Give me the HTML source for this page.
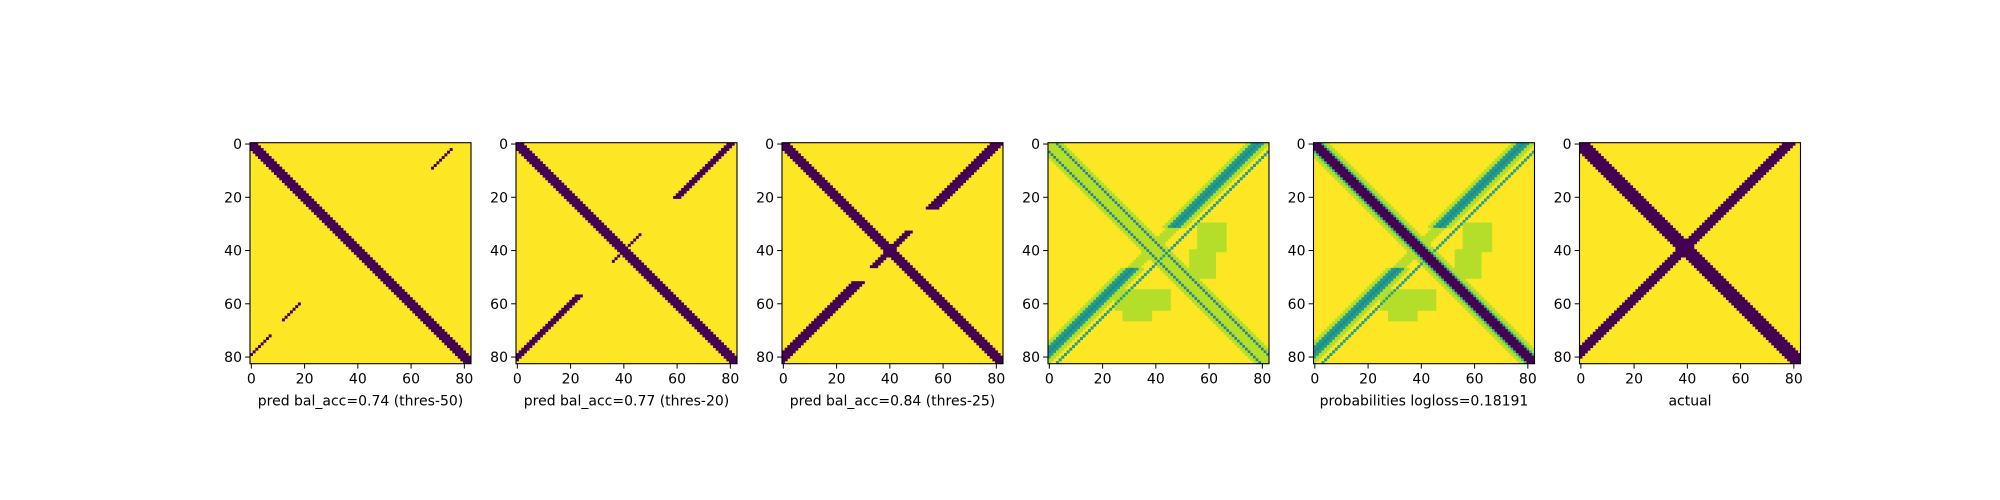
<!DOCTYPE html>
<html><head><meta charset="utf-8">
<style>
html,body{margin:0;padding:0;background:#fff;}
svg{display:block;}
text{font-family:"DejaVu Sans","Liberation Sans",sans-serif;font-size:14px;fill:#000;}
</style></head>
<body>
<svg id="fig" width="2000" height="500" viewBox="0 0 2000 500" xmlns="http://www.w3.org/2000/svg"></svg>
<script>
// ---- data ----
const xlabels = ["pred bal_acc=0.74 (thres-50)","pred bal_acc=0.77 (thres-20)","pred bal_acc=0.84 (thres-25)","","probabilities logloss=0.18191","actual"];
const ticks = [0,20,40,60,80];
const tickLabels = ["0","20","40","60","80"];
const N = 83;
// main-diagonal half widths for binary panels
const mainHalf = [2,2,2,null,null,3];
// anti-diagonal segments: [rowStart,rowEnd,rowPlusCol,halfWidth]
const antiSegs1 = [[2,9,77,0.6],[60,66,78,0.6],[72,80,79,0.8]];
const antiSegs2 = [[0,20,80,1],[34,44,80,0.6],[57,82,80,1]];
const antiSegs3 = [[0,24,80,2],[33,46,80,1.2],[52,82,80,2]];
const antiSegs6 = [[0,82,78,2]];
const antiSegs = [antiSegs1,antiSegs2,antiSegs3,null,null,antiSegs6];
// probability panels: blobs [r0,r1,c0,c1,value]
const blobs = [[30,40,56,66,0.92],[40,50,53,62,0.92],[55,62,25,45,0.92],[60,66,28,38,0.92]];
// ---- geometry ----
const lefts = [250,516,782,1048,1313.5,1579.5];
const top0 = 142.7, W = 221, cs = W/N;
const viridis = ["#440154","#482878","#3e4989","#31688e","#26828e","#1f9e89","#35b779","#6ece58","#b5de2b","#fde725"];
function vcol(v){v=Math.max(0,Math.min(1,v));return viridis[Math.round(v*9)];}
function value(p,r,c){
  if(p!==3 && p!==4){
    if(Math.abs(r-c)<=mainHalf[p]) return 0;
    for(const s of antiSegs[p]){ if(r>=s[0]&&r<=s[1]&&Math.abs(r+c-s[2])<=s[3]) return 0; }
    return 1;
  }
  let v=1;
  for(const b of blobs){ if(r>=b[0]&&r<=b[1]&&c>=b[2]&&c<=b[3]) v=Math.min(v,b[4]); }
  const d=r+c-78, center=(r>=32&&r<=46);
  if(Math.abs(d)<=4 && !center) v=Math.min(v,0.9);
  if(Math.abs(d)<=2) v=Math.min(v,center?0.85:0.6);
  if(Math.abs(d)<=0.5 && !center) v=Math.min(v,0.45);
  if(r+c===85) v=Math.min(v,0.5);
  const m=Math.abs(r-c);
  if(p===3){
    if(m<=5) v=Math.min(v,0.93);
    if(m===3) v=Math.min(v,0.45);
  } else {
    if(m<=5) v=Math.min(v,0.9);
    if(m===3) v=Math.min(v,0.7);
    if(m<=2) v=0;
  }
  return v;
}
const NS="http://www.w3.org/2000/svg";
const fig=document.getElementById('fig');
function mk(tag,attrs,parent){const e=document.createElementNS(NS,tag);for(const k in attrs)e.setAttribute(k,attrs[k]);parent.appendChild(e);return e;}
const xs=(L,i)=>L+(i+0.5)*cs;
const ys=i=>top0+(i+0.5)*cs;
for(let p=0;p<6;p++){
  const L=lefts[p];
  const g=mk('g',{},fig);
  
  
  const bg=mk('rect',{x:L,y:top0,width:W,height:W,fill:viridis[9]},g);
  
  
  for(let r=0;r<N;r++){
    let c0=0,col=vcol(value(p,r,0));
    for(let c=1;c<=N;c++){
      const cc=c<N?vcol(value(p,r,c)):null;
      if(cc!==col){
        if(col!==viridis[9]){
          const rc=mk('rect',{x:(L+c0*cs).toFixed(2),y:(top0+r*cs).toFixed(2),width:((c-c0)*cs+0.3).toFixed(2),height:(cs+0.3).toFixed(2),fill:col},g);
          
          
        }
        c0=c;col=cc;
      }
    }
  }
  const fr=mk('rect',{x:L,y:top0,width:W,height:W,fill:'none',stroke:'#000','stroke-width':1.1},fig);
  
  
  ticks.forEach((t,i)=>{
    const x=xs(L,t), y=ys(t);
    const tx=mk('line',{x1:x,x2:x,y1:top0+W,y2:top0+W+4.9,stroke:'#000','stroke-width':1},fig);
    
    
    const lx=mk('text',{x:x,y:top0+W+20,'text-anchor':'middle'},fig);
    lx.textContent=tickLabels[i];
    
    
    const ty=mk('line',{x1:L-4.9,x2:L,y1:y,y2:y,stroke:'#000','stroke-width':1},fig);
    
    
    const ly=mk('text',{x:L-8,y:y+5,'text-anchor':'end'},fig);
    ly.textContent=tickLabels[i];
    
    
  });
  if(xlabels[p]){
    const xl=mk('text',{x:L+W/2,y:top0+W+42,'text-anchor':'middle'},fig);
    xl.textContent=xlabels[p];
    
    
  }
}
</script>
</body></html>
